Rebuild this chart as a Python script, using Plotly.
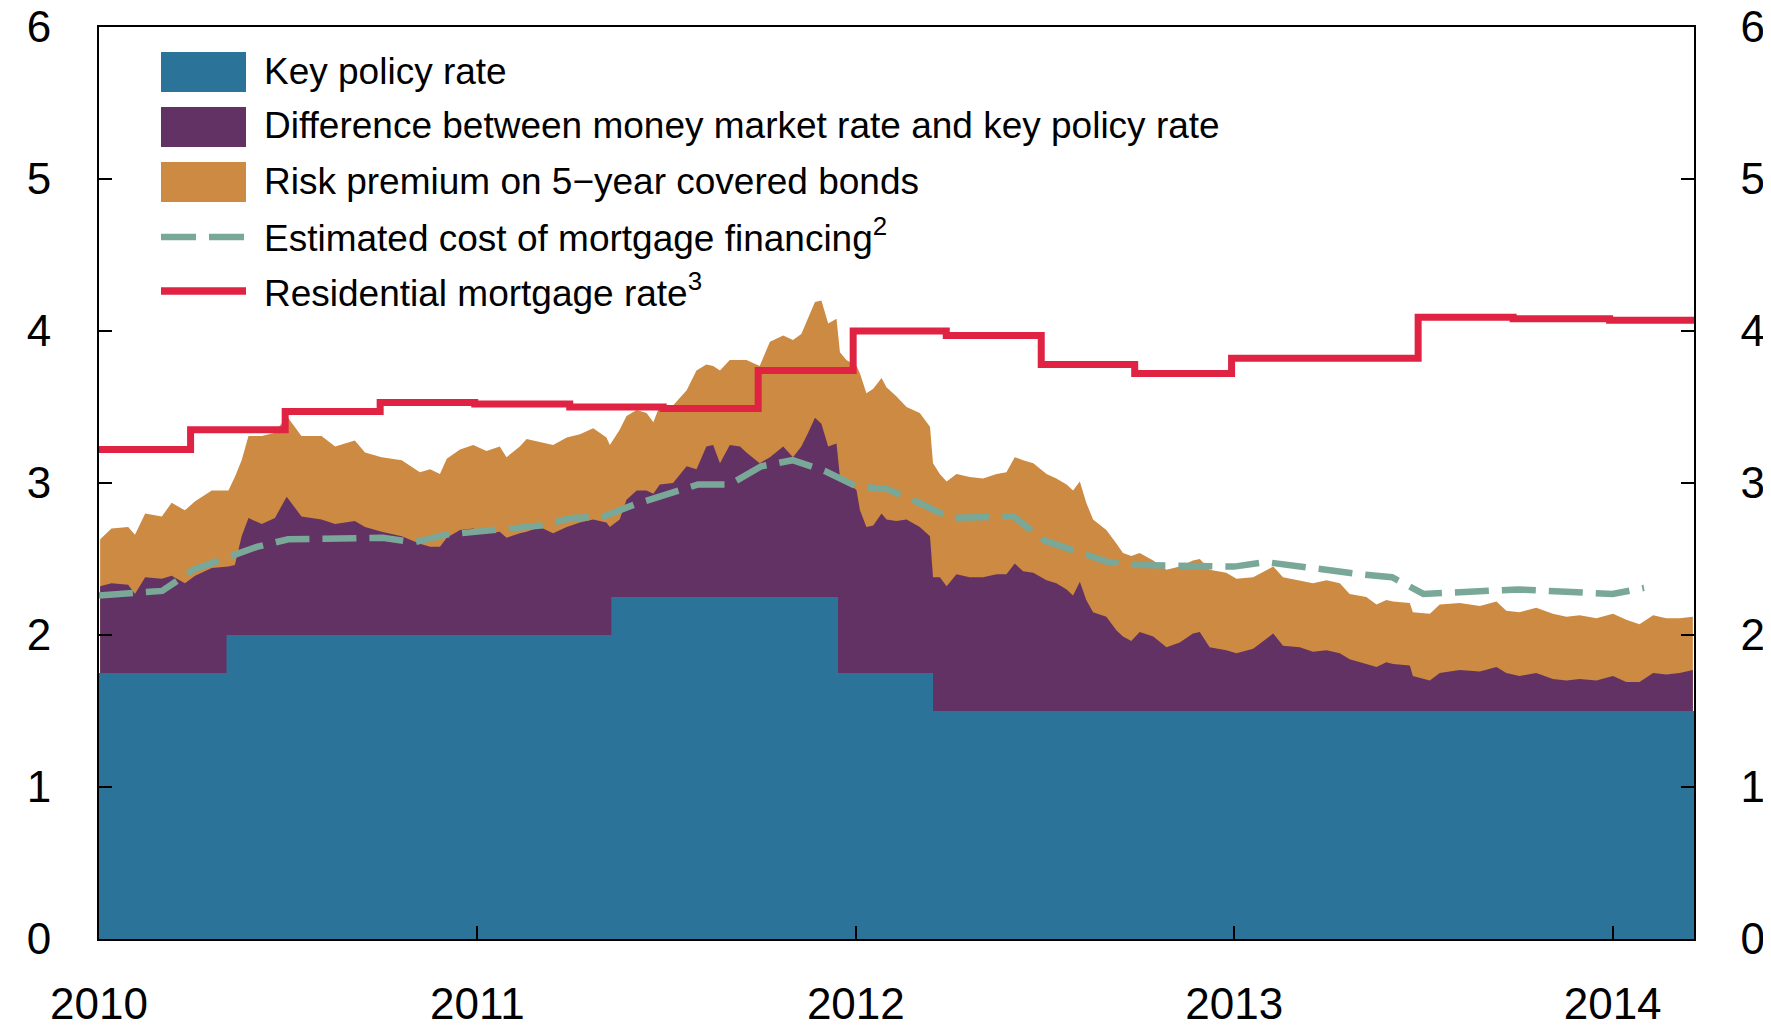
import plotly.graph_objects as go

# ---------------- data (decimal years) ----------------
key_t = [2010.0, 2010.337, 2011.354, 2011.953, 2012.204, 2014.215]
key_v = [1.75, 2.00, 2.25, 1.75, 1.50, 1.50]

mort_t = [2010.0, 2010.242, 2010.492, 2010.743, 2010.993, 2011.244, 2011.491, 2011.742,
          2011.993, 2012.239, 2012.490, 2012.737, 2012.993, 2013.245, 2013.486, 2013.737,
          2013.992, 2014.215]
mort_v = [3.22, 3.35, 3.47, 3.53, 3.52, 3.50, 3.49, 3.74,
          4.00, 3.97, 3.78, 3.72, 3.82, 3.82, 4.09, 4.08,
          4.07, 4.07]

cost_t = [2010.000, 2010.083, 2010.167, 2010.250, 2010.333, 2010.417, 2010.500, 2010.583,
          2010.667, 2010.750, 2010.833, 2010.917, 2011.000, 2011.083, 2011.167, 2011.250,
          2011.333, 2011.417, 2011.500, 2011.583, 2011.667, 2011.750, 2011.833, 2011.917,
          2012.000, 2012.083, 2012.167, 2012.250, 2012.333, 2012.417, 2012.500, 2012.583,
          2012.667, 2012.750, 2012.833, 2012.917, 2013.000, 2013.083, 2013.167, 2013.250,
          2013.333, 2013.417, 2013.500, 2013.583, 2013.667, 2013.750, 2013.833, 2013.917,
          2014.000, 2014.083]
cost_v = [2.26, 2.27, 2.29, 2.43, 2.50, 2.58, 2.63, 2.63,
          2.635, 2.64, 2.61, 2.66, 2.68, 2.70, 2.72, 2.77,
          2.78, 2.86, 2.93, 2.99, 2.99, 3.11, 3.15, 3.08,
          2.98, 2.96, 2.87, 2.77, 2.775, 2.78, 2.62, 2.55,
          2.48, 2.46, 2.46, 2.455, 2.45, 2.48, 2.45, 2.43,
          2.40, 2.38, 2.27, 2.28, 2.285, 2.30, 2.29, 2.28,
          2.27, 2.31]

# money market rate (top of purple) and covered bond rate (top of orange)
mm_t = [2010.003, 2010.033, 2010.077, 2010.095, 2010.122, 2010.166, 2010.192, 2010.227, 2010.254,
        2010.298, 2010.342, 2010.359, 2010.377, 2010.395, 2010.430, 2010.465, 2010.496, 2010.535,
        2010.588, 2010.624, 2010.676, 2010.703, 2010.747, 2010.800, 2010.848, 2010.875, 2010.901,
        2010.919, 2010.954, 2010.989, 2011.024, 2011.059, 2011.077, 2011.112, 2011.130, 2011.165,
        2011.200, 2011.236, 2011.271, 2011.306, 2011.341, 2011.350, 2011.376, 2011.394, 2011.421,
        2011.447, 2011.465, 2011.482, 2011.517, 2011.553, 2011.579, 2011.605, 2011.623, 2011.641,
        2011.667, 2011.694, 2011.711, 2011.746, 2011.773, 2011.808, 2011.834, 2011.856, 2011.874,
        2011.892, 2011.909, 2011.927, 2011.949, 2011.958, 2011.975, 2012.002, 2012.011, 2012.028,
        2012.046, 2012.068, 2012.081, 2012.107, 2012.134, 2012.169, 2012.196, 2012.204, 2012.222,
        2012.240, 2012.266, 2012.301, 2012.336, 2012.372, 2012.398, 2012.420, 2012.442, 2012.469,
        2012.504, 2012.530, 2012.557, 2012.574, 2012.592, 2012.609, 2012.627, 2012.662, 2012.689,
        2012.706, 2012.728, 2012.750, 2012.786, 2012.821, 2012.856, 2012.891, 2012.909, 2012.935,
        2012.979, 2013.006, 2013.050, 2013.103, 2013.129, 2013.173, 2013.208, 2013.244, 2013.279,
        2013.305, 2013.349, 2013.376, 2013.402, 2013.420, 2013.464, 2013.472, 2013.517, 2013.543,
        2013.596, 2013.649, 2013.693, 2013.719, 2013.754, 2013.798, 2013.842, 2013.878, 2013.913,
        2013.957, 2014.001, 2014.036, 2014.071, 2014.107, 2014.142, 2014.177, 2014.212]
mm_v = [2.32, 2.34, 2.33, 2.27, 2.38, 2.37, 2.39, 2.34, 2.39,
        2.44, 2.45, 2.46, 2.65, 2.77, 2.73, 2.77, 2.91, 2.78,
        2.76, 2.73, 2.75, 2.71, 2.68, 2.65, 2.60, 2.58, 2.58,
        2.64, 2.69, 2.70, 2.67, 2.68, 2.64, 2.67, 2.68, 2.71,
        2.67, 2.71, 2.74, 2.76, 2.74, 2.71, 2.76, 2.89, 2.95,
        2.95, 2.93, 2.99, 3.00, 3.11, 3.09, 3.24, 3.25, 3.13,
        3.25, 3.24, 3.20, 3.13, 3.17, 3.24, 3.17, 3.24, 3.33,
        3.43, 3.39, 3.24, 3.26, 3.04, 3.02, 2.95, 2.82, 2.71,
        2.72, 2.80, 2.76, 2.75, 2.76, 2.71, 2.65, 2.38, 2.38,
        2.32, 2.40, 2.38, 2.38, 2.40, 2.40, 2.47, 2.42, 2.41,
        2.36, 2.34, 2.30, 2.26, 2.35, 2.23, 2.15, 2.12, 2.03,
        1.99, 1.96, 2.02, 1.99, 1.92, 1.95, 2.01, 2.02, 1.92,
        1.90, 1.88, 1.91, 2.01, 1.93, 1.92, 1.89, 1.90, 1.88,
        1.84, 1.81, 1.79, 1.82, 1.81, 1.80, 1.73, 1.70, 1.75,
        1.77, 1.76, 1.79, 1.75, 1.73, 1.75, 1.71, 1.70, 1.71,
        1.70, 1.73, 1.69, 1.69, 1.75, 1.74, 1.75, 1.77]
bond_v = [2.63, 2.70, 2.71, 2.66, 2.80, 2.78, 2.87, 2.82, 2.88,
          2.95, 2.95, 3.04, 3.15, 3.31, 3.31, 3.33, 3.44, 3.31,
          3.31, 3.24, 3.28, 3.20, 3.17, 3.15, 3.07, 3.09, 3.06,
          3.16, 3.22, 3.25, 3.21, 3.24, 3.17, 3.24, 3.29, 3.27,
          3.25, 3.30, 3.32, 3.36, 3.30, 3.25, 3.35, 3.44, 3.48,
          3.46, 3.40, 3.51, 3.51, 3.61, 3.74, 3.78, 3.77, 3.74,
          3.81, 3.81, 3.81, 3.77, 3.93, 3.97, 3.94, 3.98, 4.09,
          4.19, 4.20, 4.05, 4.08, 3.86, 3.81, 3.77, 3.72, 3.59,
          3.62, 3.69, 3.63, 3.57, 3.50, 3.46, 3.37, 3.13, 3.06,
          3.01, 3.06, 3.04, 3.03, 3.06, 3.07, 3.17, 3.15, 3.13,
          3.06, 3.03, 2.99, 2.95, 3.01, 2.87, 2.76, 2.69, 2.60,
          2.54, 2.52, 2.54, 2.49, 2.43, 2.45, 2.49, 2.50, 2.43,
          2.41, 2.37, 2.38, 2.45, 2.38, 2.36, 2.34, 2.36, 2.34,
          2.27, 2.25, 2.20, 2.23, 2.22, 2.21, 2.15, 2.14, 2.20,
          2.21, 2.19, 2.22, 2.16, 2.15, 2.18, 2.14, 2.12, 2.13,
          2.11, 2.14, 2.10, 2.07, 2.13, 2.11, 2.11, 2.12]

x_ticks = [2010, 2011, 2012, 2013, 2014]
x_labels = ["2010", "2011", "2012", "2013", "2014"]
y_ticks = [0, 1, 2, 3, 4, 5, 6]

names = ["Key policy rate",
         "Difference between money market rate and key policy rate",
         "Risk premium on 5\u2212year covered bonds",
         "Estimated cost of mortgage financing<sup>2</sup>",
         "Residential mortgage rate<sup>3</sup>"]

# ---------------- styling ----------------
BLUE = "#2C7399"
PURPLE = "#633264"
ORANGE = "#CD8A42"
TEAL = "#7AA898"
RED = "#E02243"
FONT = "Liberation Sans, Arial, Helvetica, sans-serif"

# the page body adds an 8 px margin, so the figure is offset by OFF
OFF = 8
W, H = 1771 - OFF, 1025 - OFF
L, R, T, B = 99 - OFF, 1694 - OFF, 27 - OFF, 939 - OFF


def px(x):  # page pixel -> paper
    return (x - OFF - L) / (R - L)


def py(y):
    return (B - (y - OFF)) / (B - T)


fig = go.Figure()
fig.add_trace(go.Scatter(x=mm_t, y=bond_v, mode="lines", line=dict(width=0),
                         fill="tozeroy", fillcolor=ORANGE, hoverinfo="skip", showlegend=False))
fig.add_trace(go.Scatter(x=mm_t, y=mm_v, mode="lines", line=dict(width=0),
                         fill="tozeroy", fillcolor=PURPLE, hoverinfo="skip", showlegend=False))
fig.add_trace(go.Scatter(x=key_t, y=key_v, mode="lines", line=dict(width=0, shape="hv"),
                         fill="tozeroy", fillcolor=BLUE, hoverinfo="skip", showlegend=False))
fig.add_trace(go.Scatter(x=cost_t, y=cost_v, mode="lines",
                         line=dict(color=TEAL, width=6.5, dash="34px,13px"),
                         hoverinfo="skip", showlegend=False))
fig.add_trace(go.Scatter(x=mort_t, y=mort_v, mode="lines",
                         line=dict(color=RED, width=7, shape="hv"),
                         hoverinfo="skip", showlegend=False))
# carrier for the right-hand axis
fig.add_trace(go.Scatter(x=[key_t[0]], y=[key_v[0]], yaxis="y2", mode="markers",
                         marker=dict(opacity=0), hoverinfo="skip", showlegend=False))

# ---------------- hand-built legend ----------------
shapes = []
annotations = []
sw_x0, sw_x1 = px(161), px(246)
rect_rows = [(52, 92, BLUE), (107, 147, PURPLE), (162, 202, ORANGE)]
for y0, y1, c in rect_rows:
    shapes.append(dict(type="rect", xref="paper", yref="paper", x0=sw_x0, x1=sw_x1,
                       y0=py(y1), y1=py(y0), fillcolor=c, line=dict(width=0)))
shapes.append(dict(type="line", xref="paper", yref="paper", x0=px(161), x1=px(196),
                   y0=py(237), y1=py(237), line=dict(color=TEAL, width=6.5)))
shapes.append(dict(type="line", xref="paper", yref="paper", x0=px(209), x1=px(244),
                   y0=py(237), y1=py(237), line=dict(color=TEAL, width=6.5)))
shapes.append(dict(type="line", xref="paper", yref="paper", x0=px(161), x1=px(246),
                   y0=py(291), y1=py(291), line=dict(color=RED, width=7.5)))

text_y = [72, 126, 181, 235, 290]
for name, ty in zip(names, text_y):
    annotations.append(dict(text=name, xref="paper", yref="paper", x=px(262), y=py(ty),
                            xanchor="left", yanchor="middle", showarrow=False,
                            font=dict(size=37, color="black", family=FONT)))

axis_common = dict(showgrid=False, zeroline=False, showline=True, linecolor="black",
                   ticks="inside", ticklen=13, tickwidth=1.5, tickcolor="black",
                   automargin=False, tickfont=dict(size=44), ticklabeloverflow="allow")

fig.update_layout(
    width=W, height=H,
    margin=dict(l=L, r=W - R, t=T, b=H - B, pad=0, autoexpand=False),
    paper_bgcolor="white", plot_bgcolor="white",
    font=dict(family=FONT, color="black", size=44),
    showlegend=False,
    xaxis=dict(range=[2010, 2014.215], tickvals=x_ticks, ticktext=x_labels,
               mirror=True, linewidth=2, ticklabelstandoff=25, **axis_common),
    yaxis=dict(range=[0, 6], tickvals=y_ticks, linewidth=2, ticklabelstandoff=37,
               **axis_common),
    yaxis2=dict(range=[0, 6], tickvals=y_ticks, overlaying="y", side="right",
                linewidth=1.5, ticklabelstandoff=36, **axis_common),
    shapes=shapes,
    annotations=annotations,
)

fig.write_html("out.html")
